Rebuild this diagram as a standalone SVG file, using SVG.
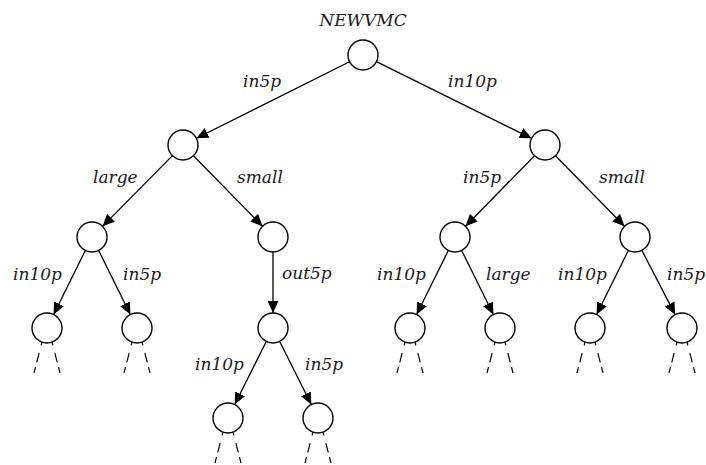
<svg xmlns="http://www.w3.org/2000/svg" width="706" height="465" viewBox="0 0 706 465">
<style>
.n{fill:#fff;stroke:#000;stroke-width:1.4}
.e{fill:none;stroke:#000;stroke-width:1.3;marker-end:url(#ah)}
.d{fill:none;stroke:#000;stroke-width:1.2;stroke-dasharray:3.5 8 9.5 5 8}
text{font-family:"DejaVu Serif","Liberation Serif",serif;font-style:italic;font-size:17px;fill:#1a1a1a}
</style>
<defs>
<marker id="ah" markerUnits="userSpaceOnUse" markerWidth="13" markerHeight="11" refX="12" refY="5.5" orient="auto">
<path d="M0,0 L12,5.5 L0,11 z" fill="#000"/>
</marker>
<g id="stub">
<line class="d" x1="-5" y1="14" x2="-13" y2="45"/>
<line class="d" x1="5" y1="14" x2="13" y2="45"/>
</g>
</defs>
<g id="connectors">
<line class="e" x1="349.58" y1="61.71" x2="196.42" y2="138.29"/>
<line class="e" x1="376.45" y1="61.65" x2="531.55" y2="138.35"/>
<line class="e" x1="172.45" y1="155.66" x2="102.55" y2="226.34"/>
<line class="e" x1="193.49" y1="155.72" x2="262.51" y2="226.28"/>
<line class="e" x1="534.51" y1="155.72" x2="465.49" y2="226.28"/>
<line class="e" x1="555.49" y1="155.72" x2="624.51" y2="226.28"/>
<line class="e" x1="85.35" y1="250.45" x2="53.65" y2="314.55"/>
<line class="e" x1="98.65" y1="250.45" x2="130.35" y2="314.55"/>
<line class="e" x1="273" y1="252" x2="273" y2="313"/>
<line class="e" x1="448.35" y1="250.45" x2="416.65" y2="314.55"/>
<line class="e" x1="461.65" y1="250.45" x2="493.35" y2="314.55"/>
<line class="e" x1="628.35" y1="250.45" x2="596.65" y2="314.55"/>
<line class="e" x1="641.88" y1="250.33" x2="675.12" y2="314.67"/>
<line class="e" x1="266.29" y1="341.42" x2="234.71" y2="404.58"/>
<line class="e" x1="279.71" y1="341.42" x2="311.29" y2="404.58"/>
<use href="#stub" x="47" y="328"/>
<use href="#stub" x="137" y="328"/>
<use href="#stub" x="410" y="328"/>
<use href="#stub" x="500" y="328"/>
<use href="#stub" x="590" y="328"/>
<use href="#stub" x="682" y="328"/>
<use href="#stub" x="228" y="418"/>
<use href="#stub" x="318" y="418"/>
</g>
<g id="labels">
<text x="363" y="26" text-anchor="middle">NEWVMC</text>
<text x="243" y="87">in5p</text>
<text x="448" y="87">in10p</text>
<text x="93" y="183">large</text>
<text x="237" y="183">small</text>
<text x="463" y="183">in5p</text>
<text x="599" y="183">small</text>
<text x="13" y="280">in10p</text>
<text x="123" y="280">in5p</text>
<text x="282" y="279">out5p</text>
<text x="377" y="280">in10p</text>
<text x="486" y="280">large</text>
<text x="558" y="280">in10p</text>
<text x="667" y="280">in5p</text>
<text x="195" y="370">in10p</text>
<text x="305" y="370">in5p</text>
</g>
<g id="root"><circle class="n" cx="363" cy="55" r="15"/></g>
<g id="n_l"><circle class="n" cx="183" cy="145" r="15"/></g>
<g id="n_r"><circle class="n" cx="545" cy="145" r="15"/></g>
<g id="n_ll"><circle class="n" cx="92" cy="237" r="15"/></g>
<g id="n_ls"><circle class="n" cx="273" cy="237" r="15"/></g>
<g id="n_rl"><circle class="n" cx="455" cy="237" r="15"/></g>
<g id="n_rs"><circle class="n" cx="635" cy="237" r="15"/></g>
<g id="n_ll1"><circle class="n" cx="47" cy="328" r="15"/></g>
<g id="n_ll2"><circle class="n" cx="137" cy="328" r="15"/></g>
<g id="n_ls1"><circle class="n" cx="273" cy="328" r="15"/></g>
<g id="n_rl1"><circle class="n" cx="410" cy="328" r="15"/></g>
<g id="n_rl2"><circle class="n" cx="500" cy="328" r="15"/></g>
<g id="n_rs1"><circle class="n" cx="590" cy="328" r="15"/></g>
<g id="n_rs2"><circle class="n" cx="682" cy="328" r="15"/></g>
<g id="n_ls11"><circle class="n" cx="228" cy="418" r="15"/></g>
<g id="n_ls12"><circle class="n" cx="318" cy="418" r="15"/></g>
</svg>
